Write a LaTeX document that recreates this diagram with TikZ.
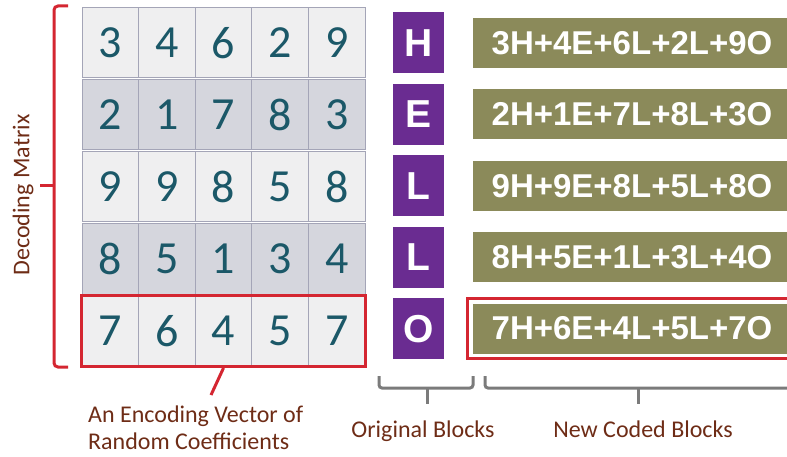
\documentclass[tikz,border=0pt]{standalone}
\usepackage{fontspec}
\setmainfont{Carlito}
\newfontfamily\blockfont{Liberation Sans}
\usetikzlibrary{fit}

\definecolor{cellLight}{HTML}{EFEFF0}
\definecolor{cellDark}{HTML}{D5D6DD}
\definecolor{cellEdge}{HTML}{A4A5B7}
\definecolor{digitTeal}{HTML}{1B5868}
\definecolor{markRed}{HTML}{D42631}
\definecolor{origPurple}{HTML}{6A2C91}
\definecolor{codedOlive}{HTML}{8B8A5A}
\definecolor{labelBrown}{HTML}{6E2C16}
\definecolor{braceGray}{HTML}{7B7B7B}

\tikzset{
  label text/.style={text=labelBrown, font=\fontsize{24}{27}\selectfont, inner sep=0pt},
  gray brace/.style={draw=braceGray, line width=3pt, rounded corners=3pt},
}

\begin{document}
\begin{tikzpicture}[x=1pt, y=-1pt]
  \useasboundingbox (0,0) rectangle (787,457);

  %% ---------- LEFT: decoding matrix, one row per coded block ----------
  \begin{scope}[every node/.style={rectangle, draw=cellEdge, line width=1pt,
      minimum width=56.6pt, minimum height=70pt, inner sep=0pt,
      text=digitTeal, font=\fontsize{46}{46}\selectfont}]
    \foreach \r/\vals/\shade in {1/{3,4,6,2,9}/cellLight, 2/{2,1,7,8,3}/cellDark,
        3/{9,9,8,5,8}/cellLight, 4/{8,5,1,3,4}/cellDark, 5/{7,6,4,5,7}/cellLight}{
      \foreach \v [count=\c] in \vals
        \node[fill=\shade] (m\r\c) at ({82+56.6*(\c-0.5)}, {43+72*(\r-1)}) {\v};
    }
  \end{scope}

  % last row is the encoding vector
  \node[fit=(m51)(m55), inner sep=0pt, draw=markRed, line width=3pt] (encvec) {};
  \coordinate (vectip) at (211,395);
  \draw[markRed, line width=3pt] (encvec.south) -- (vectip);
  \node[label text, align=left, anchor=north west] (enclabel) at (88,406)
    {An Encoding Vector of\\Random Coefficients};

  % bracket over the whole matrix
  \draw[markRed, line width=3pt, rounded corners=4pt] (68,6) -| (54,367) -- (68,367);
  \draw[markRed, line width=3pt] (54,186) -- (40,186);
  \node[label text, rotate=90] (declabel) at (23,195) {Decoding Matrix};

  %% ---------- MIDDLE: original blocks ----------
  \begin{scope}[every node/.style={rectangle, fill=origPurple, text=white,
      minimum width=51pt, minimum height=61pt, inner sep=0pt,
      font=\blockfont\bfseries\fontsize{39}{39}\selectfont}]
    \foreach \ch [count=\i] in {H,E,L,L,O}
      \node (orig\i) at (418.5, {43+71.4*(\i-1)}) {\ch};
  \end{scope}

  %% ---------- RIGHT: new coded blocks ----------
  \begin{scope}[every node/.style={rectangle, fill=codedOlive, text=white,
      minimum width=318pt, minimum height=50pt, inner sep=0pt,
      font=\blockfont\bfseries\fontsize{33}{33}\selectfont}]
    \foreach \sum [count=\i] in {3H+4E+6L+2L+9O, 2H+1E+7L+8L+3O, 9H+9E+8L+5L+8O,
        8H+5E+1L+3L+4O, 7H+6E+4L+5L+7O}
      \node (coded\i) at (632, {43+71.4*(\i-1)}) {\sum};
  \end{scope}
  \node[fit=(coded5), inner sep=5pt, draw=markRed, line width=3pt] (codedmark) {};

  %% ---------- braces under the blocks ----------
  \draw[gray brace] (379,376) |- (473,388) -- (473,376);
  \draw[gray brace] (427,388) -- (427,404);
  \draw[gray brace] (485,376) |- (800,388);
  \draw[gray brace] (638,388) -- (638,404);
  \node[label text, anchor=base] (origlabel) at (423,437) {Original Blocks};
  \node[label text, anchor=base] (codedlabel) at (643,437) {New Coded Blocks};
\end{tikzpicture}
\end{document}
